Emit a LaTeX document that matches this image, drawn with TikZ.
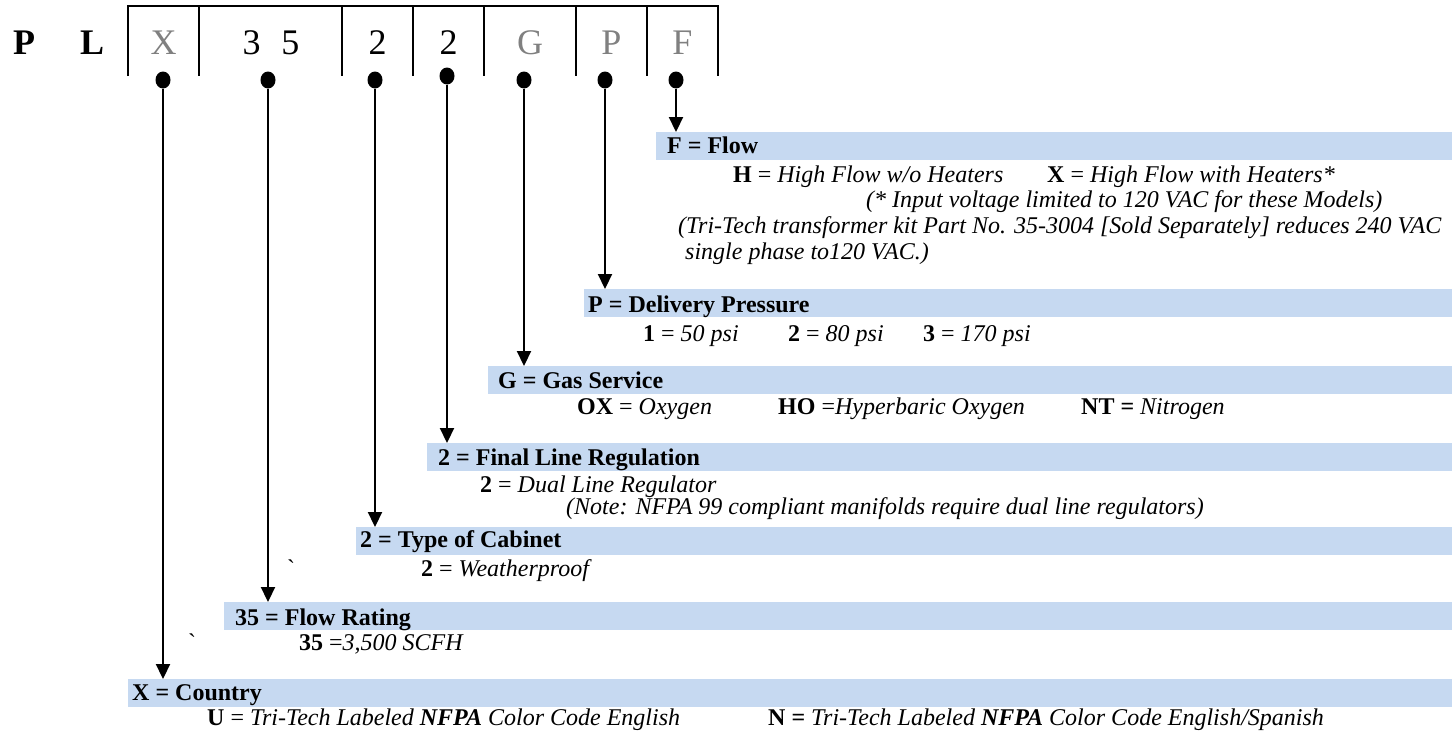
\documentclass[tikz,border=0pt]{standalone}
\usepackage{fontspec}
\setmainfont{Liberation Serif}
\usetikzlibrary{arrows.meta,shapes.geometric}
\definecolor{barblue}{HTML}{C6D9F1}
\definecolor{codegray}{HTML}{808080}
\begin{document}
\begin{tikzpicture}[x=1pt,y=-1pt,
  bar/.style={fill=barblue, draw=none, inner sep=0pt, anchor=north west, minimum height=28pt},
  ttl/.style={anchor=base west, inner sep=0pt, font=\bfseries},
  txt/.style={anchor=base west, inner sep=0pt},
  cell/.style={anchor=base, inner sep=0pt, font=\fontsize{36}{40}\selectfont},
  dotnode/.style={ellipse, fill=black, minimum width=15pt, minimum height=17pt, inner sep=0pt},
  arr/.style={line width=2.2pt, -{Triangle[length=15pt,width=14pt]}},
  hdr/.style={line width=2pt}
]
\fontsize{24}{28}\selectfont
\useasboundingbox (0,0) rectangle (1452,736);

% header
\draw[hdr] (128,76) -- (128,6) -- (718,6) -- (718,76);
\foreach \xx in {199,342,413,484,576,647} \draw[hdr] (\xx,6) -- (\xx,76);
\node[cell, font=\fontsize{36}{40}\selectfont\bfseries, anchor=base west] (hP) at (13,54) {P};
\node[cell, font=\fontsize{36}{40}\selectfont\bfseries, anchor=base west] (hL) at (80,54) {L};
\node[cell, text=codegray] (hX) at (163.5,54) {X};
\node[cell] (h35) at (271,54) {3\hspace{21pt}5};
\node[cell] (h2a) at (377.5,54) {2};
\node[cell] (h2b) at (448.5,54) {2};
\node[cell, text=codegray] (hG) at (530,54) {G};
\node[cell, text=codegray] (hPP) at (611.5,54) {P};
\node[cell, text=codegray] (hF) at (682.5,54) {F};

% bars
\node[bar, minimum width=796pt] (bF) at (656,132) {};
\node[bar, minimum width=868pt] (bP) at (584,289) {};
\node[bar, minimum width=964pt] (bG) at (488,366) {};
\node[bar, minimum width=1025pt] (bL) at (427,443) {};
\node[bar, minimum width=1096pt] (bT) at (356,527) {};
\node[bar, minimum width=1228pt] (bR) at (224,602) {};
\node[bar, minimum width=1324pt] (bX) at (128,679) {};

% dots
\node[dotnode] (dX) at (163,80) {};
\node[dotnode] (d35) at (268,80) {};
\node[dotnode] (d2a) at (375,80) {};
\node[dotnode] (d2b) at (447,76) {};
\node[dotnode] (dG) at (524,80) {};
\node[dotnode] (dP) at (605,80) {};
\node[dotnode] (dF) at (676,80) {};

% arrows
\draw[arr] (dF) -- (dF |- bF.north);
\draw[arr] (dP) -- (dP |- bP.north);
\draw[arr] (dG) -- (dG |- bG.north);
\draw[arr] (d2b) -- (d2b |- bL.north);
\draw[arr] (d2a) -- (d2a |- bT.north);
\draw[arr] (d35) -- (d35 |- bR.north);
\draw[arr] (dX) -- (dX |- bX.north);

% titles
\node[ttl] (tF) at (667,153) {F = Flow};
\node[ttl] (tP) at (588,312) {P = Delivery Pressure};
\node[ttl] (tG) at (498,388) {G = Gas Service};
\node[ttl] (tL) at (438,465) {2 = Final Line Regulation};
\node[ttl] (tT) at (360,547) {2 = Type of Cabinet};
\node[ttl] (tR) at (235,625) {35 = Flow Rating};
\node[ttl] (tX) at (132,700) {X = Country};

% F block
\node[txt] (f1) at (733,182) {\textbf{H} = \textit{High Flow w/o Heaters}};
\node[txt] (f2) at (1047,182) {\textbf{X} = \textit{High Flow with Heaters*}};
\node[txt] (f3) at (866,207) {\textit{(* Input voltage limited to 120 VAC for these Models)}};
\node[txt] (f4) at (678,233) {\textit{(Tri-Tech transformer kit Part No. 35-3004 [Sold Separately] reduces 240 VAC}};
\node[txt] (f5) at (685,259) {\textit{single phase to120 VAC.)}};
% P block
\node[txt] (p1) at (643,341) {\textbf{1} = \textit{50 psi}};
\node[txt] (p2) at (788,341) {\textbf{2} = \textit{80 psi}};
\node[txt] (p3) at (923,341) {\textbf{3} = \textit{170 psi}};
% G block
\node[txt] (g1) at (577,414) {\textbf{OX} = \textit{Oxygen}};
\node[txt] (g2) at (778,414) {\textbf{HO} =\textit{Hyperbaric Oxygen}};
\node[txt] (g3) at (1081,414) {\textbf{NT =} \textit{Nitrogen}};
% L block
\node[txt] (l1) at (480,492) {\textbf{2} = \textit{Dual Line Regulator}};
\node[txt] (l2) at (566,514) {\textit{(Note: NFPA 99 compliant manifolds require dual line regulators)}};
% T block
\node[txt] (tq1) at (287,576) {\textasciigrave};
\node[txt] (t1) at (421,576) {\textbf{2} = \textit{Weatherproof}};
% R block
\node[txt] (rq1) at (188,650) {\textasciigrave};
\node[txt] (r1) at (299,650) {\textbf{35} =\textit{3,500 SCFH}};
% X block
\node[txt] (x1) at (207,725) {\textbf{U} = \textit{Tri-Tech Labeled \textbf{NFPA} Color Code English}};
\node[txt] (x2) at (768,725) {\textbf{N =} \textit{Tri-Tech Labeled \textbf{NFPA} Color Code English/Spanish}};
\end{tikzpicture}
\end{document}
